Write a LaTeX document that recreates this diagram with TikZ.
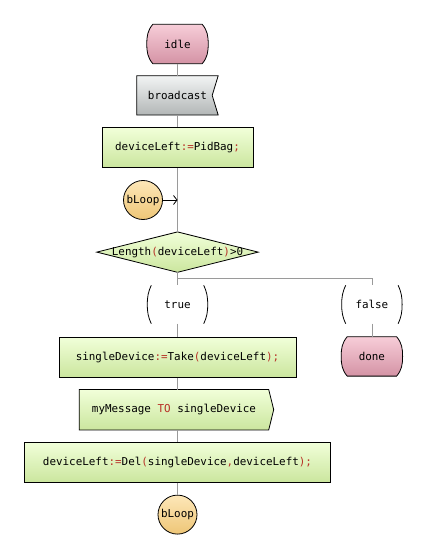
\documentclass[tikz,border=0pt]{standalone}
\usepackage{fontspec}
\setmonofont{DejaVu Sans Mono}
\usetikzlibrary{arrows.meta,positioning,calc,backgrounds}
\definecolor{stateTop}{HTML}{F7CDD8}
\definecolor{stateBot}{HTML}{D493A5}
\definecolor{inTop}{HTML}{F2F4F4}
\definecolor{inBot}{HTML}{B2B6B6}
\definecolor{taskTop}{HTML}{F1FFD9}
\definecolor{taskBot}{HTML}{CBE69E}
\definecolor{joinTop}{HTML}{FDE7B8}
\definecolor{joinBot}{HTML}{EEC677}
\definecolor{flowgrey}{HTML}{9A9A9A}
\definecolor{opred}{HTML}{B83228}
\newcommand{\sdlop}[1]{\textcolor{opred}{#1}}

\begin{document}
\begin{tikzpicture}[
  x=1pt, y=1pt,
  font=\fontsize{10.9}{12}\selectfont\ttfamily,
  every node/.style={text=black},
  >={Straight Barb[length=3.5pt,width=9pt]},
  node distance=12pt,
  outline/.style={draw=black, line width=0.8pt},
  taskbox/.style={
    rectangle, outline, top color=taskTop, bottom color=taskBot,
    minimum height=40pt, inner sep=0pt, text=black
  },
  statebox/.style={rectangle, minimum width=61pt, minimum height=39pt, inner sep=0pt},
  inputbox/.style={rectangle, minimum width=81pt, minimum height=39pt, inner sep=0pt},
  outputbox/.style={rectangle, minimum width=189pt, minimum height=40pt, inner sep=0pt},
  decisionbox/.style={rectangle, minimum width=161pt, minimum height=40pt, inner sep=0pt},
  answerbox/.style={rectangle, minimum width=60pt, minimum height=38pt, inner sep=0pt},
  joinbox/.style={
    circle, outline, top color=joinTop, bottom color=joinBot,
    minimum size=39pt, inner sep=0pt, text=black
  },
  flow/.style={draw=flowgrey, line width=0.8pt},
  jump/.style={->, draw=black, line width=0.8pt},
]
\useasboundingbox (0,0) rectangle (424,-556);

% main column
\node[statebox] (idle) at (177.5,-44) {idle};
\node[inputbox, below=of idle] (bcast) {broadcast};
\node[taskbox, minimum width=151pt, below=of bcast] (init) {deviceLeft\sdlop{:=}PidBag\sdlop{;}};
\node[joinbox] (loopin) at (143,-200) {bLoop};
\node[decisionbox, below=64pt of init] (cond) {Length\sdlop{(}deviceLeft\sdlop{)}>0};
\node[answerbox, below=13pt of cond] (yes) {true};
\node[answerbox, right=134pt of yes] (no) {false};
\node[statebox, below=13pt of no] (done) {done};
\node[taskbox, minimum width=237pt, below=13pt of yes] (take)
  {singleDevice\sdlop{:=}Take\sdlop{(}deviceLeft\sdlop{)}\sdlop{;}};
\node[outputbox, below=of take, xshift=-3.5pt] (send) {myMessage \sdlop{TO} singleDevice};
\node[taskbox, minimum width=306pt, below=of send, xshift=3.5pt] (del)
  {deviceLeft\sdlop{:=}Del\sdlop{(}singleDevice\sdlop{,}deviceLeft\sdlop{)}\sdlop{;}};
\node[joinbox, below=of del] (loopout) {bLoop};

% symbol outlines behind the texts
\begin{scope}[on background layer]
  \foreach \s in {idle,done}{
    \shade[outline, top color=stateTop, bottom color=stateBot]
      ($(\s.north west)+(6,0)$) -- ($(\s.north east)+(-6,0)$)
      to[out=-50,in=90] (\s.east) to[out=-90,in=50] ($(\s.south east)+(-6,0)$)
      -- ($(\s.south west)+(6,0)$)
      to[out=130,in=-90] (\s.west) to[out=90,in=-130] ($(\s.north west)+(6,0)$) -- cycle;
  }
  \shade[outline, top color=inTop, bottom color=inBot]
    (bcast.north west) -- (bcast.north east) -- ($(bcast.east)+(-6,0)$)
    -- (bcast.south east) -- (bcast.south west) -- cycle;
  \shade[outline, top color=taskTop, bottom color=taskBot]
    (send.north west) -- (send.north east) -- ($(send.east)+(5,0)$)
    -- (send.south east) -- (send.south west) -- cycle;
  \shade[outline, top color=taskTop, bottom color=taskBot]
    (cond.west) -- (cond.north) -- (cond.east) -- (cond.south) -- cycle;
  \foreach \a in {yes,no}{
    \draw[line width=0.8pt] ($(\a.north west)+(4,0)$) to[out=-115,in=90] (\a.west)
      to[out=-90,in=115] ($(\a.south west)+(4,0)$);
    \draw[line width=0.8pt] ($(\a.north east)+(-4,0)$) to[out=-65,in=90] (\a.east)
      to[out=-90,in=65] ($(\a.south east)+(-4,0)$);
  }
\end{scope}

% connectors
\draw[flow] (idle.south) -- (bcast.north);
\draw[flow] (bcast.south) -- (init.north);
\draw[flow] (init.south) -- (cond.north);
\draw[jump] (loopin.east) -- (loopin.east -| cond.north);
\draw[flow] (cond.south) -- (yes.north);
\draw[flow] (cond.south) -- ++(0,-6) -| (no.north);
\draw[flow] (no.south) -- (done.north);
\draw[flow] (yes.south) -- (take.north);
\draw[flow] (take.south) -- (take.south |- send.north);
\draw[flow] (take.south |- send.south) -- (del.north);
\draw[flow] (del.south) -- (loopout.north);

\end{tikzpicture}
\end{document}
